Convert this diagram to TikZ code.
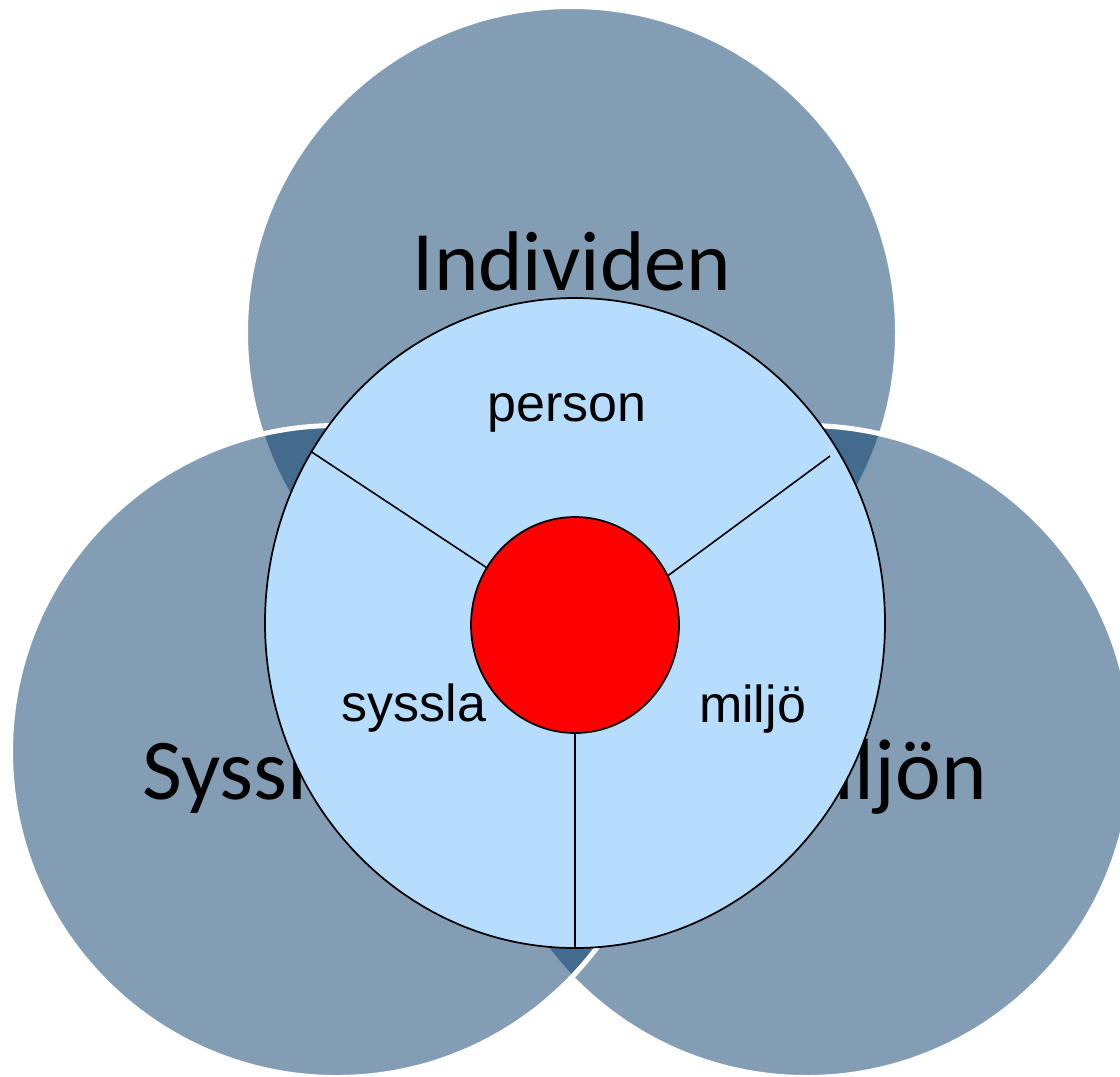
\documentclass[tikz,border=0pt]{standalone}
\usepackage{fontspec}
\newfontfamily\calibrilike{Carlito}
\newfontfamily\ariallike{Liberation Sans}
\usetikzlibrary{shapes.geometric}
\definecolor{venn}{RGB}{0,55,103}
\definecolor{paleblue}{RGB}{182,221,253}
\definecolor{corered}{RGB}{255,0,0}
\begin{document}
\begin{tikzpicture}[x=0.75pt,y=-0.75pt,
  venncircle/.style={circle,draw=white,line width=3.75pt,fill=venn,
    fill opacity=0.49,draw opacity=1,minimum size=489pt,inner sep=0pt,outer sep=0pt},
  bigtext/.style={font=\calibrilike\fontsize{65}{78}\selectfont,inner sep=0pt,text=black},
  smalltext/.style={font=\ariallike\fontsize{39}{47}\selectfont,inner sep=0pt,text=black},
  outerring/.style={ellipse,draw=black,line width=1.3pt,fill=paleblue,
    minimum width=465pt,minimum height=487.5pt,inner sep=0pt},
  corering/.style={ellipse,draw=black,line width=1.3pt,fill=corered,
    minimum width=156pt,minimum height=162pt,inner sep=0pt},
  spoke/.style={draw=black,line width=1.2pt}]
\useasboundingbox (0,0) rectangle (1120,1076);
\clip (0,0) rectangle (1120,1076);

% the three overlapping circles
\node[venncircle] (ind) at (571.5,332.5) {};
\node[venncircle] (mil) at (806.5,751.5) {};
\node[venncircle] (sys) at (336.5,751.5) {};

% circle titles
\node[bigtext,font=\calibrilike\fontsize{63.5}{76}\selectfont,anchor=base] (tind) at (572,290.5) {Individen};
\node[bigtext,anchor=base west] (tsys) at (142,799) {Sysslan};
\node[bigtext,anchor=base east] (tmil) at (987,799) {Miljön};

% inner model
\node[outerring] (outer) at (575,623) {};
\node[corering] (core) at (575,625) {};
\coordinate (mtip) at (830,456);
\draw[spoke] (core.147.2) -- (outer.147.4);
\draw[spoke] (core.28.3) -- (mtip);
\draw[spoke] (core.south) -- (outer.south);

\node[smalltext,anchor=base] (lperson) at (567,421.7) {person};
\node[smalltext,anchor=base] (lsyssla) at (414,721.7) {syssla};
\node[smalltext,anchor=base] (lmiljo) at (752.5,722.7) {miljö};
\end{tikzpicture}
\end{document}
